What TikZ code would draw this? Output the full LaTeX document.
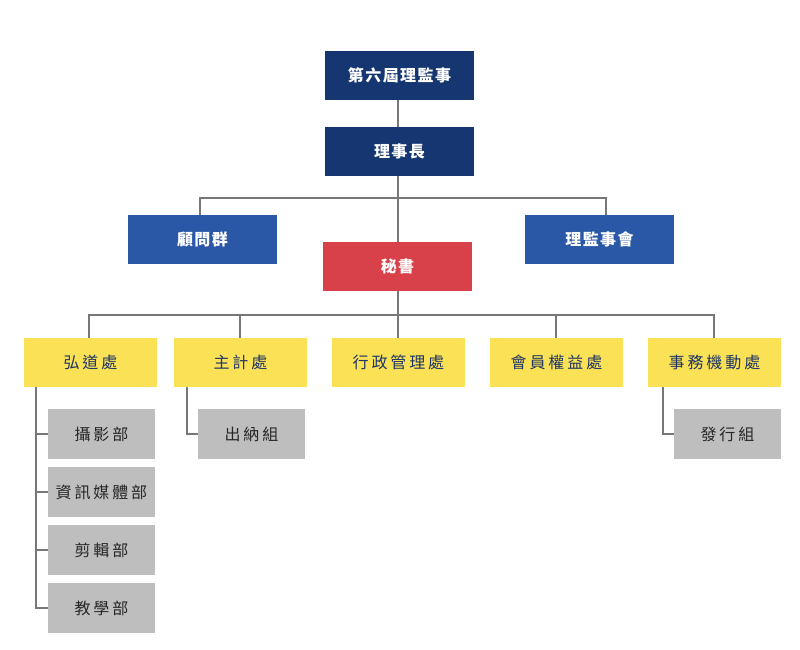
\documentclass[tikz,border=0pt]{standalone}
\usepackage{fontspec}
\newfontfamily\cjk[LetterSpace=9]{Noto Sans CJK TC}
\newfontfamily\cjksp[LetterSpace=18]{Noto Sans CJK TC}
\definecolor{navy}{HTML}{163672}
\definecolor{midblue}{HTML}{2A58A6}
\definecolor{redbox}{HTML}{D9414A}
\definecolor{yel}{HTML}{FAE155}
\definecolor{greybox}{HTML}{BEBEBE}
\definecolor{linec}{HTML}{777777}
\definecolor{txtnavy}{HTML}{1E3566}
\begin{document}
\begin{tikzpicture}[x=1pt,y=-1pt,
  box/.style={inner sep=0pt,outer sep=0pt,minimum width=149pt,minimum height=49pt,font=\cjk\bfseries\fontsize{16}{19}\selectfont,text=white},
  topbox/.style={box,fill=navy},
  sidebox/.style={box,fill=midblue},
  secbox/.style={box,fill=redbox},
  dept/.style={inner sep=0pt,outer sep=0pt,minimum width=133pt,minimum height=49pt,fill=yel,text=txtnavy,font=\cjksp\fontsize{16}{19}\selectfont},
  sub/.style={inner sep=0pt,outer sep=0pt,minimum width=107pt,minimum height=50pt,fill=greybox,text=black!85,font=\cjksp\fontsize{16}{19}\selectfont},
  conn/.style={draw=linec,line width=1.3pt}]
\useasboundingbox (0,0) rectangle (800,650);
% top
\node[topbox] (board) at (399.5,75.5) {第六屆理監事};
\node[topbox] (chair) at (399.5,151.5) {理事長};
\node[sidebox] (adv) at (202.5,239.5) {顧問群};
\node[sidebox] (council) at (599.5,239.5) {理監事會};
\node[secbox] (sec) at (397.5,266.5) {秘書};
\coordinate (hb) at (398,198);
\coordinate (hl) at (200,198);
\coordinate (hr) at (606,198);
\draw[conn] (board.south -| hb) -- (chair.north -| hb);
\draw[conn] (chair.south -| hb) -- (sec.north -| hb);
\draw[conn] (adv.north -| hl) -- (hl) -- (hr) -- (council.north -| hr);
% departments
\node[dept] (d1) at (90.5,362.5) {弘道處};
\node[dept] (d2) at (240.5,362.5) {主計處};
\node[dept] (d3) at (398.5,362.5) {行政管理處};
\node[dept] (d4) at (556.5,362.5) {會員權益處};
\node[dept] (d5) at (714.5,362.5) {事務機動處};
\coordinate (bl) at (89,315);
\coordinate (br) at (714,315);
\draw[conn] (sec.south -| hb) -- (d3.north -| hb);
\draw[conn] (d1.north -| bl) -- (bl) -- (br) -- (d5.north -| br);
\draw[conn] (d2.north -| 240,0) -- (240,315);
\draw[conn] (d4.north -| 556,0) -- (556,315);
% sub units
\node[sub] (s1) at (101.5,434) {攝影部};
\node[sub] (s2) at (101.5,492) {資訊媒體部};
\node[sub] (s3) at (101.5,550) {剪輯部};
\node[sub] (s4) at (101.5,608) {教學部};
\node[sub] (s5) at (251.5,434) {出納組};
\node[sub] (s6) at (727.5,434) {發行組};
\coordinate (v1) at (36,0);
\draw[conn] (d1.south -| v1) |- (s4.west);
\draw[conn] (s1.west) -- (s1.west -| v1);
\draw[conn] (s2.west) -- (s2.west -| v1);
\draw[conn] (s3.west) -- (s3.west -| v1);
\coordinate (v2) at (187,0);
\draw[conn] (d2.south -| v2) |- (s5.west);
\coordinate (v3) at (663,0);
\draw[conn] (d5.south -| v3) |- (s6.west);
\end{tikzpicture}
\end{document}
